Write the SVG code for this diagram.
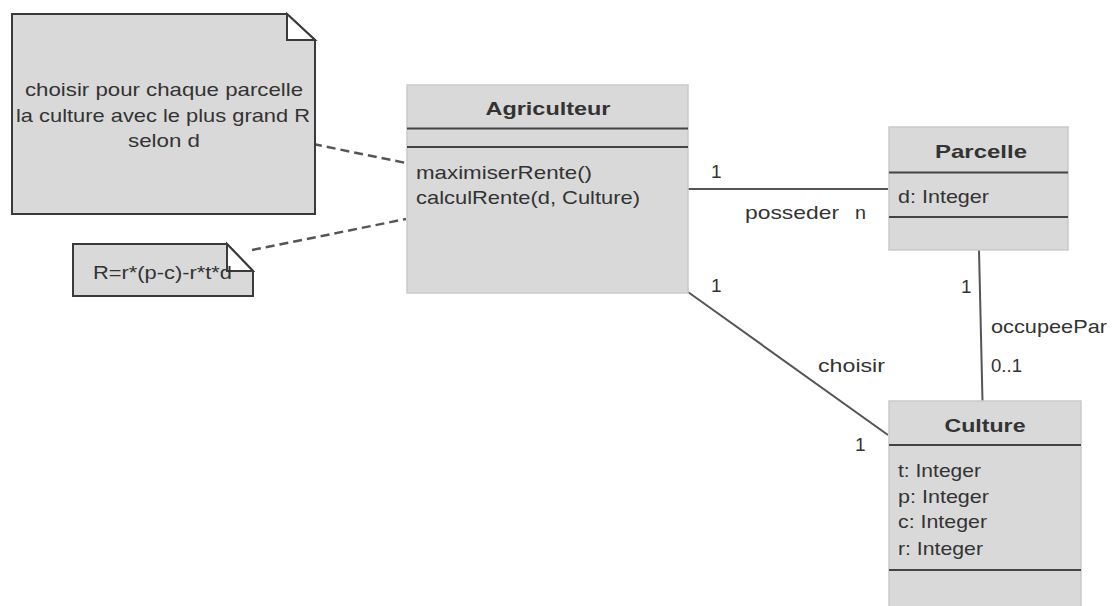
<svg xmlns="http://www.w3.org/2000/svg" width="1114" height="606" viewBox="0 0 1114 606">
<style>
.cls{fill:#d9d9d9;stroke:#cacaca;stroke-width:1.5}
.note{fill:#d9d9d9;stroke:#3a3a3a;stroke-width:2}
.fold{fill:#ffffff;stroke:#3a3a3a;stroke-width:2}
.sep{stroke:#444;stroke-width:2}
.assoc{stroke:#555;stroke-width:2;fill:none}
.dash{stroke:#555;stroke-width:2.5;stroke-dasharray:9,5;fill:none}
text{font-family:"Liberation Sans",Arial,sans-serif;font-size:19px;fill:#333}
.t{font-weight:bold;text-anchor:middle}
.c{text-anchor:middle}
</style>
<rect width="1114" height="606" fill="#ffffff"/>
<g id="connectors">
<line class="dash" x1="313" y1="144" x2="406" y2="163"/>
<line class="dash" x1="252" y1="250" x2="406" y2="219"/>
<line class="assoc" x1="688" y1="189" x2="888" y2="189"/>
<line class="assoc" x1="688" y1="292" x2="888" y2="435"/>
<line class="assoc" x1="979" y1="250" x2="982.5" y2="401"/>
<text x="711" y="178">1</text>
<text x="745" y="219" textLength="94" lengthAdjust="spacingAndGlyphs">posseder</text>
<text x="855" y="219" textLength="11" lengthAdjust="spacingAndGlyphs">n</text>
<text x="711" y="292">1</text>
<text x="818" y="372" textLength="67" lengthAdjust="spacingAndGlyphs">choisir</text>
<text x="855" y="451">1</text>
<text x="961" y="293">1</text>
<text x="991" y="333" textLength="116" lengthAdjust="spacingAndGlyphs">occupeePar</text>
<text x="991" y="372" textLength="31" lengthAdjust="spacingAndGlyphs">0..1</text>
</g>
<g id="note-choisir">
<path class="note" d="M12,14 H287 L315,40 V214 H12 Z"/>
<path class="fold" d="M287,14 V40 H315 Z"/>
<text class="c" x="164" y="96" textLength="278" lengthAdjust="spacingAndGlyphs">choisir pour chaque parcelle</text>
<text class="c" x="163" y="122" textLength="294" lengthAdjust="spacingAndGlyphs">la culture avec le plus grand R</text>
<text class="c" x="164" y="147" textLength="72" lengthAdjust="spacingAndGlyphs">selon d</text>
</g>
<g id="note-formule">
<path class="note" d="M73,244 H227 L253,271 V296 H73 Z"/>
<path class="fold" d="M227,244 V271 H253 Z"/>
<text x="93" y="279" textLength="139" lengthAdjust="spacingAndGlyphs">R=r*(p-c)-r*t*d</text>
</g>
<g id="agriculteur">
<rect class="cls" x="407" y="85" width="281" height="208"/>
<line class="sep" x1="407" y1="128.5" x2="688" y2="128.5"/>
<line class="sep" x1="407" y1="147" x2="688" y2="147"/>
<text class="t" x="548" y="115" textLength="125" lengthAdjust="spacingAndGlyphs">Agriculteur</text>
<text x="416" y="179" textLength="176" lengthAdjust="spacingAndGlyphs">maximiserRente()</text>
<text x="416" y="204" textLength="224" lengthAdjust="spacingAndGlyphs">calculRente(d, Culture)</text>
</g>
<g id="parcelle">
<rect class="cls" x="889" y="127" width="179" height="123"/>
<line class="sep" x1="889" y1="172.5" x2="1068" y2="172.5"/>
<line class="sep" x1="889" y1="217" x2="1068" y2="217"/>
<text class="t" x="981" y="158" textLength="92" lengthAdjust="spacingAndGlyphs">Parcelle</text>
<text x="898" y="203" textLength="91" lengthAdjust="spacingAndGlyphs">d: Integer</text>
</g>
<g id="culture">
<rect class="cls" x="889" y="401" width="192" height="210"/>
<line class="sep" x1="889" y1="445" x2="1081" y2="445"/>
<line class="sep" x1="889" y1="570" x2="1081" y2="570"/>
<text class="t" x="985" y="432" textLength="81" lengthAdjust="spacingAndGlyphs">Culture</text>
<text x="898" y="477" textLength="83" lengthAdjust="spacingAndGlyphs">t: Integer</text>
<text x="898" y="503" textLength="91" lengthAdjust="spacingAndGlyphs">p: Integer</text>
<text x="898" y="528" textLength="89" lengthAdjust="spacingAndGlyphs">c: Integer</text>
<text x="898" y="555" textLength="85" lengthAdjust="spacingAndGlyphs">r: Integer</text>
</g>
</svg>
